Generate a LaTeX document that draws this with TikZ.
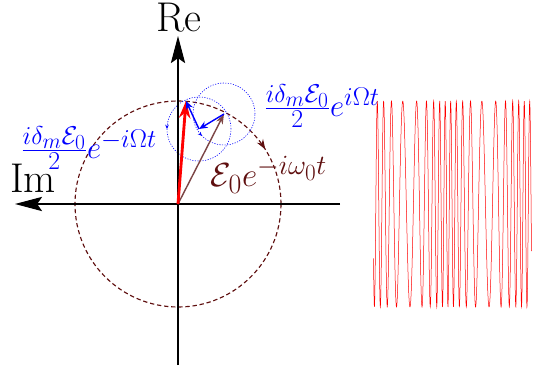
\documentclass[tikz,border=0pt]{standalone}
\usetikzlibrary{arrows.meta,decorations.markings}
\definecolor{carrier}{RGB}{95,15,15}
\definecolor{carrierarrow}{RGB}{125,70,70}
\begin{document}
\begin{tikzpicture}[x=0.7pt, y=0.7pt,
  axis/.style={line width=0.8pt, -{Stealth[length=19pt, width=10pt, inset=3.5pt]}},
  axlabel/.style={font=\Huge, scale=1.17, inner sep=1pt},
  mathlabel/.style={font=\Huge, inner sep=1pt},
  sideband/.style={blue, line width=1pt, -{Stealth[length=6pt, width=5pt]}},
  orbit/.style={blue, line width=0.4pt, dash pattern=on 0.8pt off 1pt},
  wave/.style={red, line width=0.35pt}
]
  \useasboundingbox (-178,-167) rectangle (357,204);

  \coordinate (O) at (0,0);
  \coordinate (imtip) at (-163,0);
  \coordinate (imend) at (162,0);
  \coordinate (retip) at (0,168);
  \coordinate (reend) at (0,-161);
  \coordinate (carriertip) at (46,90);
  \coordinate (mid) at (21,75);
  \coordinate (sumtip) at (8,103);

  % slow carrier circle, turning clockwise
  \draw[carrier, line width=0.8pt, dash pattern=on 3pt off 2pt,
        postaction={decorate, decoration={markings,
          mark=at position 0.089 with {\arrowreversed[carrier]{Stealth[length=7pt, width=5pt]}}}}]
    (O) circle (103);

  % sideband circles
  \draw[orbit, postaction={decorate, decoration={markings,
          mark=at position 0.625 with {\arrow{Stealth[length=3pt, width=2.5pt]}}}}]
    (carriertip) circle (31);
  \draw[orbit, postaction={decorate, decoration={markings,
          mark=at position 0.5 with {\arrow{Stealth[length=3pt, width=2.5pt]}}}}]
    (mid) circle (32);

  \draw[axis] (imend) -- (imtip);
  \draw[axis] (reend) -- (retip);
  \node[axlabel] (re) at (1,186) {Re};
  \node[axlabel] (im) at (-145,26) {Im};

  \draw[carrierarrow, line width=1pt, -{Stealth[length=7pt, width=5pt]}] (O) -- (carriertip);
  \draw[red, line width=2pt, -{Stealth[length=12pt, width=8pt]}] (O) -- (sumtip);
  \draw[sideband] (carriertip) -- (mid);
  \draw[sideband] (mid) -- (sumtip);

  \node[mathlabel, scale=0.94, text=carrier] (carrierlbl) at (91,29) {$\mathcal{E}_0e^{-i\omega_0t}$};
  \node[mathlabel, scale=0.87, text=blue] (upper) at (144,98) {$\frac{i\delta_m\mathcal{E}_0}{2}e^{i\Omega t}$};
  \node[mathlabel, scale=0.87, text=blue] (lower) at (-89,56) {$\frac{i\delta_m\mathcal{E}_0}{2}e^{-i\Omega t}$};

  % real part in time
  \draw[wave] plot[domain=195.5:353.5, samples=900]
    (\x, {103*cos(45.54*(\x-199.3) + 262.8*sin(4.557*(\x-269)) - 176.4)});
\end{tikzpicture}
\end{document}
